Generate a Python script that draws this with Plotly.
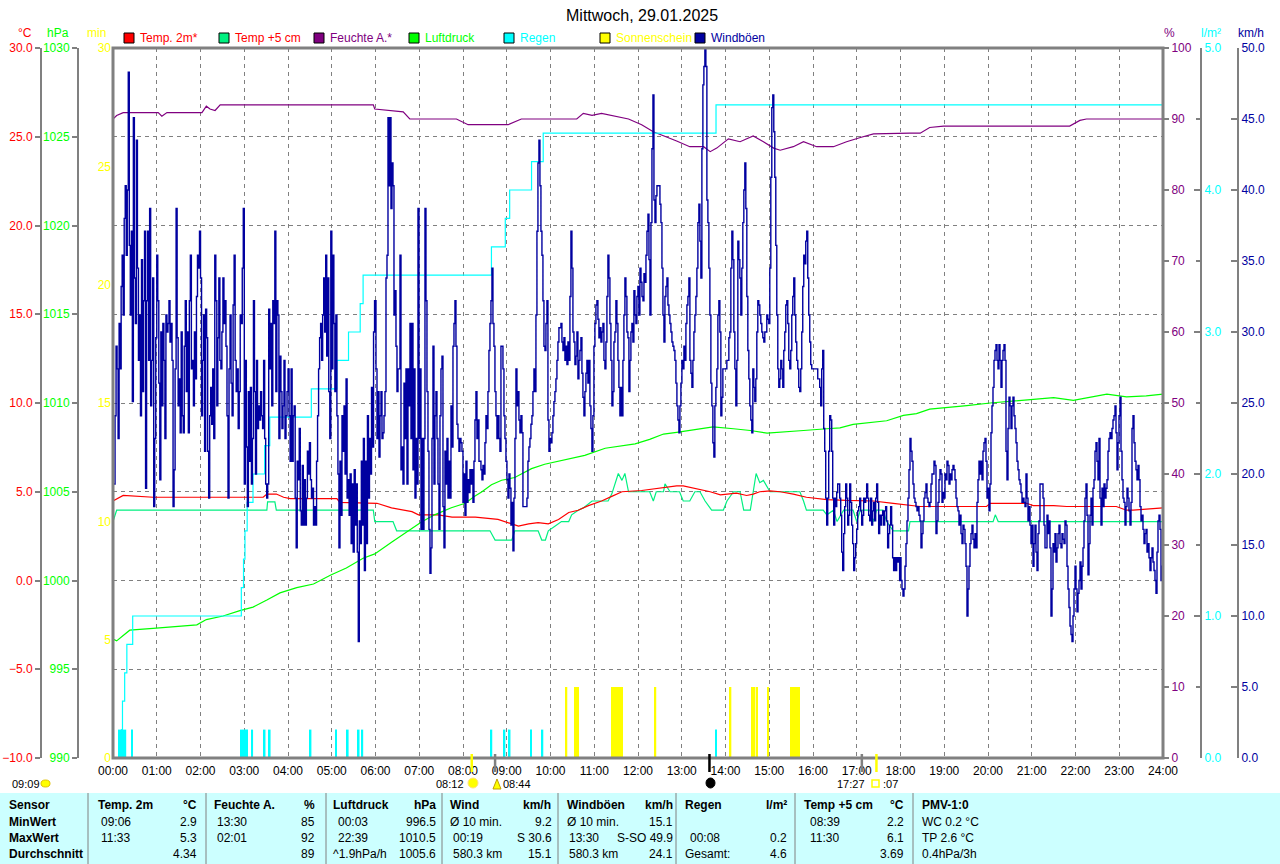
import numpy as np
import plotly.graph_objects as go

# ---------------- DATA (time in minutes since 00:00) ----------------
hour_ticks = list(range(0, 1441, 60))
hour_labels = ["%02d:00" % h for h in range(25)]

hum_t = [0, 5, 14, 62, 67, 74, 122, 128, 133, 140, 147, 357, 359, 398, 407, 471, 487, 542, 560, 636,
         645, 657, 670, 679, 707, 725, 741, 773, 791, 810, 819, 828, 844, 860, 878, 892, 906, 915, 933, 947,
         965, 988, 1006, 1025, 1043, 1093, 1107, 1120, 1139, 1312, 1326, 1335, 1440]
hum_v = [90.0, 90.5, 90.9, 90.9, 90.4, 90.9, 90.9, 91.8, 91.4, 91.2, 92.0, 92.0, 91.4, 91.0, 90.0, 90.0, 89.2, 89.2, 90.0, 90.0,
         90.8, 90.5, 90.8, 90.6, 90.0, 89.2, 88.2, 86.9, 86.1, 86.1, 85.4, 85.9, 87.2, 86.8, 87.6, 86.8, 85.9, 85.6, 86.1, 86.8,
         86.1, 86.1, 86.8, 87.4, 87.9, 88.0, 88.0, 88.8, 89.0, 89.0, 89.8, 90.0, 90.0]

t2_t = [0, 14, 55, 87, 206, 211, 224, 234, 243, 307, 311, 362, 382, 410, 419, 446, 465, 497, 528, 547,
        556, 570, 583, 597, 611, 625, 638, 652, 670, 684, 698, 725, 755, 773, 782, 800, 819, 833, 846, 855,
        869, 878, 887, 901, 915, 933, 951, 979, 1006, 1043, 1070, 1093, 1107, 1198, 1203, 1253, 1262, 1290, 1308, 1376,
        1390, 1399, 1422, 1440]
t2_v = [4.48, 4.79, 4.69, 4.69, 4.69, 4.87, 4.87, 4.69, 4.61, 4.61, 4.40, 4.35, 4.09, 3.88, 3.70, 3.70, 3.57, 3.57, 3.44, 3.19,
        3.06, 3.19, 3.26, 3.19, 3.44, 3.83, 3.96, 4.22, 4.48, 4.74, 5.00, 5.07, 5.23, 5.33, 5.33, 5.18, 5.00, 4.82, 4.87, 4.92,
        4.79, 4.87, 5.00, 5.05, 5.00, 4.87, 4.69, 4.56, 4.51, 4.48, 4.35, 4.22, 4.17, 4.17, 4.35, 4.35, 4.22, 4.22, 4.17, 4.17,
        3.96, 3.96, 4.04, 4.09]

t5_t = [0, 5, 211, 212, 222, 224, 357, 359, 384, 389, 517, 524, 547, 551, 583, 588, 593, 597, 606, 615,
        625, 629, 638, 645, 657, 679, 684, 693, 698, 702, 707, 736, 741, 745, 755, 757, 764, 777, 782, 791,
        798, 805, 812, 821, 837, 842, 851, 860, 865, 874, 878, 882, 887, 892, 901, 942, 947, 951, 974, 979,
        988, 993, 1002, 1015, 1020, 1025, 1038, 1043, 1047, 1056, 1061, 1070, 1091, 1093, 1207, 1210, 1214, 1440]
t5_v = [3.32, 3.96, 3.96, 4.43, 4.43, 3.96, 3.96, 3.32, 3.32, 2.80, 2.80, 2.28, 2.28, 2.80, 2.80, 2.28, 2.28, 2.80, 3.06, 3.32,
        3.32, 3.70, 3.96, 4.09, 4.48, 4.48, 4.87, 6.03, 5.64, 6.03, 5.00, 5.00, 4.48, 5.00, 5.00, 5.44, 5.00, 5.00, 4.48, 4.48,
        5.00, 5.00, 4.48, 3.96, 3.96, 4.48, 5.00, 5.00, 3.96, 3.96, 5.00, 6.03, 5.51, 5.64, 5.00, 5.00, 4.48, 3.96, 3.96, 3.70,
        3.96, 3.32, 3.96, 3.96, 3.32, 3.96, 3.96, 3.32, 3.96, 3.96, 3.32, 2.80, 2.80, 3.32, 3.32, 3.70, 3.32, 3.32]

p_t = [0, 5, 14, 23, 55, 87, 115, 128, 151, 174, 192, 211, 229, 252, 275, 298, 320, 343, 359, 382,
       405, 423, 441, 464, 483, 496, 506, 519, 533, 551, 560, 574, 592, 615, 634, 647, 675, 698, 716, 736,
       755, 773, 796, 823, 851, 874, 897, 919, 947, 979, 997, 1015, 1043, 1061, 1084, 1102, 1120, 1148, 1171, 1203,
       1230, 1262, 1290, 1317, 1344, 1363, 1390, 1417, 1440]
p_v = [996.7, 996.6, 996.9, 997.2, 997.3, 997.4, 997.5, 997.8, 998.0, 998.3, 998.5, 998.9, 999.3, 999.6, 999.8, 1000.3, 1000.7, 1001.25, 1001.5, 1002.15,
       1002.8, 1003.3, 1003.7, 1004.1, 1004.35, 1004.75, 1005.0, 1005.4, 1005.65, 1005.8, 1006.0, 1006.3, 1006.55, 1006.75, 1006.9, 1007.05, 1007.45, 1007.6, 1007.7, 1007.95,
       1008.25, 1008.35, 1008.5, 1008.65, 1008.55, 1008.45, 1008.3, 1008.35, 1008.45, 1008.55, 1008.6, 1008.8, 1008.9, 1009.0, 1009.3, 1009.4, 1009.65, 1009.75, 1009.85, 1010.0,
       1010.1, 1010.2, 1010.3, 1010.15, 1010.35, 1010.5, 1010.35, 1010.4, 1010.5]

rain_t = [0, 12, 13, 16, 19, 27, 176, 179, 181, 184, 192, 208, 215, 272, 307, 323, 339, 343, 519, 538, 544, 574, 590, 827, 1440]
rain_v = [0.0, 0.2, 0.4, 0.6, 0.8, 1.0, 1.2, 1.4, 1.6, 1.8, 2.0, 2.2, 2.4, 2.6, 2.8, 3.0, 3.2, 3.4, 3.6, 3.8, 4.0, 4.2, 4.4, 4.6, 4.6]

rain_bar_t = [9, 12, 14, 17, 26, 176, 179, 181, 184, 191, 208, 215, 271, 306, 322, 337, 342, 519, 537, 544, 573, 589, 827]
rain_bar_v = [0.2] * len(rain_bar_t)

sun_t = [622, 634, 636, 638, 685, 688, 690, 693, 695, 698, 744, 847, 876, 878, 880, 883, 898, 930, 932, 934, 937, 939, 941]
sun_v = [3.0] * len(sun_t)

# wind gusts (km/h), four blocks sampled at regular intervals: (start min, end min, values)
gust1 = [19.3, 24.1, 29.0, 27.4, 22.5, 30.6, 27.4, 33.2, 35.4, 31.2, 38.0, 40.3, 35.4, 40.0, 48.3, 36.1, 31.2, 37.1, 25.1, 45.1,
         33.8, 30.6, 43.5, 34.5, 28.0, 31.2, 24.1, 35.1, 25.8, 32.2, 37.1, 19.0, 32.2, 37.1, 28.0, 38.7, 24.8, 28.0, 33.8, 17.7,
         22.5, 29.6, 35.4, 32.2, 26.4, 19.6, 30.0, 24.8, 30.6, 28.0, 22.5, 31.2, 30.0, 30.6, 32.2, 29.3, 30.6, 28.0, 17.7, 20.3,
         27.4, 38.7, 29.6, 24.8, 26.7, 22.9, 30.0, 24.1, 22.9, 29.0, 32.2, 25.8, 30.0, 22.9, 32.2, 35.4, 27.4, 28.0, 24.8, 30.0,
         26.7, 32.5, 35.4, 34.5, 37.1, 33.8, 24.1, 28.0, 31.2, 21.6, 31.6, 29.6, 21.6, 18.3, 24.1, 26.1, 23.5, 27.4, 22.5, 35.4,
         32.2, 24.8, 29.6, 33.8, 28.0, 27.4, 30.0, 33.8, 30.6, 32.2, 29.0, 24.1, 18.3, 27.4, 31.2, 26.4, 24.1, 31.9, 35.4, 28.0,
         25.8, 27.4, 23.2, 25.8, 31.2, 30.6, 34.5, 38.7, 19.3, 28.0, 21.9, 17.7, 25.8, 20.9, 26.1, 19.3, 22.5, 32.2, 25.8, 20.0,
         28.0, 23.2, 24.8, 23.8, 25.8, 24.1, 23.2, 28.0, 22.5, 19.3, 18.3, 19.3, 31.6, 27.4, 30.6, 24.8, 32.2, 30.6, 37.1, 25.8,
         32.2, 31.2, 22.5, 28.3, 25.8, 23.2, 24.8, 28.0, 22.5, 24.1, 25.8, 27.4, 24.1, 20.9, 27.4, 20.9, 24.1, 24.8, 18.3, 14.8,
         20.9, 19.6, 23.2, 17.4, 16.4, 20.6, 16.4, 19.6, 16.4, 18.3, 21.6, 20.0, 22.2, 19.6, 18.3, 19.0, 16.4, 17.7, 16.4, 20.9,
         24.1, 27.4, 29.6, 30.6, 28.0, 31.2, 33.8, 30.0, 35.4, 28.3, 33.8, 25.8, 22.5, 37.1, 27.4, 35.4, 30.6, 25.8, 31.2, 24.1,
         20.0, 14.8, 20.9, 17.1, 24.1, 21.6, 24.8, 20.0, 26.7, 18.3, 19.6, 17.1, 20.0, 15.1, 19.3, 14.5, 20.3, 16.4, 19.3, 14.5,
         8.2, 16.7, 15.1, 20.9, 16.4, 22.5, 13.2, 20.9, 15.1, 24.1, 18.3, 22.5, 20.0, 26.1, 21.9, 30.0, 32.2, 24.8, 27.4, 23.8,
         26.4, 24.8]
gust2 = [32.2, 27.4, 22.5, 25.8, 21.2, 24.1, 25.8, 22.5, 22.9, 24.1, 25.8, 33.8, 35.4, 45.1, 40.3, 45.1, 38.7, 41.9, 40.3, 31.2,
         32.9, 29.0, 25.8, 27.4, 27.4, 35.4, 20.3, 21.9, 19.3, 26.4, 22.5, 27.4, 19.3, 27.4, 24.8, 30.6, 22.5, 30.6, 20.3, 27.4,
         18.3, 22.5, 19.3, 38.7, 22.5, 27.4, 16.1, 22.5, 16.1, 22.5, 38.7, 32.2, 25.8, 21.6, 16.1, 13.0, 14.8, 22.5, 29.0, 19.3,
         24.1, 25.8, 22.5, 19.3, 16.1, 24.1, 27.4, 28.3, 17.7, 14.8, 21.6, 19.3, 22.5, 18.3, 20.9, 18.3, 24.8, 21.9, 29.0, 30.6,
         32.2, 29.0, 23.5, 22.5, 21.6, 22.5, 22.2, 21.6, 18.0, 20.0, 17.1, 20.9, 18.0, 19.6, 18.7, 20.3, 19.3, 20.3, 18.0, 20.9,
         23.8, 25.8, 22.5, 23.8, 20.9, 20.9, 20.3, 19.6, 20.6, 20.0, 22.2, 24.1, 23.2, 25.8, 28.7, 30.6, 32.2, 34.5, 30.6, 29.0,
         25.8, 24.1, 22.5, 24.1, 22.5, 21.6, 29.0, 29.0, 27.4, 24.1, 22.5, 20.9, 19.6, 18.3, 20.0, 19.0, 16.4, 18.0, 14.6, 18.3,
         22.5, 27.4, 24.8, 25.8, 23.8, 22.9, 24.1, 22.9, 17.7, 17.7, 17.7, 17.7, 18.3, 20.9, 21.9, 22.5, 23.5, 24.1, 25.8, 27.4,
         25.8, 31.2, 37.1, 41.9, 43.5, 40.3, 37.1, 35.4, 32.2, 29.0, 28.7, 30.6, 32.2, 23.8, 21.6, 22.5, 22.2, 22.9, 24.1, 25.1,
         25.8, 26.7, 28.0, 29.3, 30.3, 30.3, 30.6, 29.3, 28.7, 29.6, 28.0, 29.0, 27.7, 29.3, 28.0, 32.5, 37.1, 34.5, 30.0, 29.3,
         27.7, 28.3, 30.0, 26.7, 28.0, 28.7, 29.6, 27.1, 25.4, 24.1, 25.8, 27.1, 28.0, 26.4, 28.0, 24.8, 23.2, 21.6, 24.1, 29.0,
         30.6, 31.9, 32.2, 30.9, 29.6, 30.3, 29.3, 30.0, 30.6, 28.0, 27.4, 29.3, 32.5, 35.4, 33.8, 30.6, 28.0, 24.8, 25.8, 29.3,
         30.0, 32.2, 30.6, 28.0, 26.1, 24.1, 26.1, 24.1, 28.0, 31.2, 33.8, 32.5, 30.0, 29.6, 25.8, 28.0, 30.0, 30.6, 29.3, 32.9,
         31.2, 30.6, 32.5, 33.2, 31.2, 33.8, 35.1, 33.8, 32.5, 32.9]
gust3 = [34.5, 33.5, 32.5, 32.2, 34.1, 33.5, 35.4, 37.1, 38.3, 35.1, 31.2, 37.7, 42.9, 46.7, 39.3, 37.7, 39.6, 40.3, 40.3, 40.3,
         39.0, 37.7, 34.5, 31.2, 29.3, 32.5, 33.2, 33.8, 31.9, 31.2, 30.6, 30.0, 29.3, 29.0, 28.7, 28.0, 26.4, 24.8, 23.8, 22.9,
         24.8, 26.4, 28.0, 27.4, 29.0, 28.0, 30.6, 31.9, 32.5, 33.8, 28.0, 27.1, 26.1, 28.0, 30.0, 31.2, 32.5, 34.5, 37.7, 39.0,
         36.4, 33.8, 42.9, 47.4, 48.7, 49.9, 48.7, 39.3, 37.7, 34.5, 31.2, 26.4, 24.8, 22.2, 21.2, 24.8, 26.1, 27.4, 31.2, 32.2,
         30.0, 24.1, 25.4, 27.4, 27.4, 27.4, 27.4, 28.0, 28.0, 29.6, 30.0, 34.5, 37.1, 35.1, 30.0, 27.4, 24.8, 28.0, 36.4, 35.1,
         33.8, 31.2, 34.5, 37.7, 40.0, 41.9, 38.7, 32.5, 28.7, 26.7, 24.8, 23.8, 22.9, 27.4, 26.1, 25.1, 26.7, 30.0, 32.2, 31.9,
         31.2, 30.6, 30.0, 29.6, 29.3, 30.0, 30.0, 31.2, 30.9, 30.6, 34.5, 40.9, 45.8, 46.7, 44.1, 40.9, 36.1, 31.2, 27.4, 26.1,
         26.7, 28.0, 27.4, 26.1, 28.7, 30.0, 31.9, 32.2, 30.6, 28.0, 27.4, 28.7, 31.2, 32.5, 33.8, 31.2, 29.3, 28.0, 27.4, 26.1,
         25.8, 27.4, 30.0, 33.2, 35.4, 34.8, 36.4, 37.1, 33.8, 31.2, 29.3, 27.7, 27.4, 27.4, 27.4, 27.4, 27.4, 27.4, 26.7, 26.7,
         26.1, 24.8, 27.4, 28.7, 23.2, 21.6, 18.3, 16.4, 18.3, 21.6, 24.1, 23.8, 21.6, 18.3, 16.4, 18.3, 17.7, 18.7, 19.3, 19.3,
         18.3, 17.1, 14.5, 13.2, 15.8, 17.7, 19.3, 18.3, 16.4, 17.1, 19.3, 18.0, 16.4, 15.1, 13.2, 14.1, 15.1, 16.1, 17.4, 17.7,
         18.3, 17.4, 16.4, 17.1, 18.3, 18.0, 18.3, 19.3, 18.3, 17.1, 16.7, 18.3, 16.4, 17.4, 18.0, 16.7, 18.3, 19.3, 18.0, 15.8,
         17.1, 16.4, 17.1, 17.4, 16.4, 17.4, 17.7, 16.7, 14.8, 15.8, 16.4, 17.7, 16.4, 14.1, 13.2, 14.1, 13.2, 14.1, 13.8, 14.1,
         12.5, 11.9, 11.6, 12.5, 11.9, 13.2, 13.8, 15.8, 16.4, 18.3, 20.9]
gust4 = [14.1, 12.5, 11.9, 11.4, 11.9, 13.5, 15.1, 16.7, 18.3, 20.3, 22.5, 21.6, 20.9, 19.3, 18.3, 18.0, 17.7, 17.4, 17.7, 17.1,
         16.7, 14.8, 15.8, 16.7, 18.3, 18.7, 19.3, 18.3, 18.0, 17.7, 18.0, 19.3, 20.0, 20.0, 20.9, 20.6, 15.8, 16.7, 18.0, 19.6,
         20.3, 20.0, 18.0, 18.7, 18.3, 20.0, 19.6, 20.9, 20.6, 19.3, 20.0, 19.6, 20.3, 20.6, 20.3, 19.6, 18.3, 17.7, 17.4, 16.4,
         17.1, 15.8, 15.1, 16.4, 16.1, 15.1, 13.5, 10.0, 11.9, 13.5, 15.1, 15.8, 16.4, 15.4, 14.8, 15.8, 14.8, 18.0, 19.6, 20.9,
         20.0, 20.9, 19.6, 21.6, 22.2, 22.5, 20.9, 18.3, 19.0, 17.4, 19.3, 22.9, 24.8, 26.1, 28.0, 28.7, 29.1, 28.0, 27.4, 29.1,
         28.0, 26.1, 28.0, 28.7, 29.1, 28.0, 21.6, 19.6, 23.2, 25.4, 24.8, 23.2, 24.8, 25.4, 24.1, 23.2, 22.2, 20.9, 20.3, 19.6,
         19.3, 18.7, 18.0, 18.3, 18.0, 17.7, 20.0, 18.3, 16.7, 17.7, 16.4, 15.1, 16.4, 13.5, 15.1, 16.4, 14.5, 13.2, 15.8, 16.7,
         19.3, 19.3, 19.3, 18.3, 16.4, 14.8, 14.8, 17.1, 15.8, 16.7, 14.8, 10.0, 11.9, 15.1, 14.5, 15.8, 13.8, 14.8, 15.8, 16.4,
         15.1, 14.8, 15.8, 15.4, 15.1, 16.7, 16.4, 13.5, 11.9, 10.6, 9.3, 8.7, 8.2, 10.0, 11.9, 13.5, 11.9, 10.3, 11.6, 12.5,
         13.8, 11.9, 13.5, 14.8, 16.7, 18.3, 19.3, 17.1, 12.9, 15.1, 17.1, 18.3, 16.4, 19.0, 19.6, 21.6, 22.2, 20.9, 19.6, 22.5,
         18.3, 16.4, 19.0, 17.7, 19.3, 18.3, 19.0, 19.6, 21.6, 22.5, 22.9, 22.5, 23.2, 23.8, 24.1, 24.8, 22.9, 20.3, 22.2, 24.1,
         25.4, 21.6, 19.6, 18.3, 18.0, 16.4, 17.7, 19.0, 18.3, 17.4, 16.4, 18.0, 23.2, 24.1, 22.2, 20.9, 20.3, 19.6, 20.6, 19.6,
         17.7, 16.7, 17.1, 16.1, 15.1, 15.8, 16.1, 14.5, 15.1, 14.1, 13.2, 14.1, 14.8, 13.8, 13.2, 12.5, 11.6, 14.5, 16.7, 17.1,
         16.1, 12.5, 13.5, 12.2]
gust_blocks = [(1.4, 365.7, gust1), (359.3, 728.1, gust2), (722.7, 1092.5, gust3), (1079.3, 1440.0, gust4)]

# sun / moon events on the time axis
event_t = [492, 524, 818, 1027, 1047]
event_c = ["#FFFF00", "#808080", "#000000", "#808080", "#FFFF00"]

# summary table
tbl_header = ["Sensor", "Temp. 2m", "°C", "Feuchte A.", "%", "Luftdruck", "hPa", "Wind", "km/h", "Windböen", "km/h",
              "Regen", "l/m²", "Temp +5 cm", "°C", "PMV-1:0"]
tbl_min = ["MinWert", "09:06", "2.9", "13:30", "85", "00:03", "996.5", "Ø 10 min.", "9.2", "Ø 10 min.", "15.1",
           "", "", "08:39", "2.2", "WC 0.2 °C"]
tbl_max = ["MaxWert", "11:33", "5.3", "02:01", "92", "22:39", "1010.5", "00:19", "S 30.6", "13:30", "S-SO 49.9",
           "00:08", "0.2", "11:30", "6.1", "TP 2.6 °C"]
tbl_avg = ["Durchschnitt", "", "4.34", "", "89", "^1.9hPa/h", "1005.6", "580.3 km", "15.1", "580.3 km", "24.1",
           "Gesamt:", "4.6", "", "3.69", "0.4hPa/3h"]

# ---------------- LAYOUT helpers ----------------
W, H = 1280, 864
X0, X1, YT, YB = 113, 1163, 48, 758
def px(x):
    return x / W
def py(y):
    return 1 - y / H

GRAY = "#808080"
RED, SPRING, PURPLE, GREEN, CYAN, YELLOW, NAVY = "#FF0000", "#00F080", "#800080", "#00FF00", "#00FFFF", "#FFFF00", "#0000A0"
FONT = "Liberation Sans, Arial, sans-serif"
NARROW = "Liberation Sans Narrow, Arial Narrow, Liberation Sans, sans-serif"

fig = go.Figure()
fig.add_trace(go.Bar(x=sun_t, y=sun_v, yaxis="y3", width=2.0, marker=dict(color=YELLOW, line=dict(width=0)), name="Sonnenschein"))
fig.add_trace(go.Bar(x=rain_bar_t, y=rain_bar_v, yaxis="y5", width=2.2, marker=dict(color=CYAN, line=dict(width=0)), name="Regen"))
fig.add_trace(go.Scatter(x=rain_t, y=rain_v, yaxis="y5", mode="lines", line=dict(color=CYAN, width=1.2, shape="hv"), name="Regen sum"))
fig.add_trace(go.Scatter(x=p_t, y=p_v, yaxis="y2", mode="lines", line=dict(color=GREEN, width=1.2), name="Luftdruck"))
fig.add_trace(go.Scatter(x=t5_t, y=t5_v, yaxis="y", mode="lines", line=dict(color=SPRING, width=1.2), name="Temp +5 cm"))
fig.add_trace(go.Scatter(x=t2_t, y=t2_v, yaxis="y", mode="lines", line=dict(color=RED, width=1.2), name="Temp. 2m"))
fig.add_trace(go.Scatter(x=hum_t, y=hum_v, yaxis="y4", mode="lines", line=dict(color=PURPLE, width=1.2), name="Feuchte"))

gx, gy = [], []
for i, (a, b, vals) in enumerate(gust_blocks):
    ts = np.linspace(a, b, len(vals))
    nxt = gust_blocks[i + 1][0] if i + 1 < len(gust_blocks) else 1e9
    for t, v in zip(ts, vals):
        if t < nxt:
            gx.append(float(t))
            gy.append(v)
fig.add_trace(go.Scatter(x=gx, y=gy, yaxis="y6", mode="lines", line=dict(color=NAVY, width=1.4, shape="hv"), name="Windböen"))

ydom = [py(YB), py(YT)]
common = dict(domain=ydom, zeroline=False, automargin=False, fixedrange=True, tickfont=dict(family=FONT, size=12))
fig.update_layout(
    width=W, height=H, autosize=False, margin=dict(l=0, r=0, t=0, b=0),
    paper_bgcolor="white", plot_bgcolor="white", showlegend=False, barmode="overlay",
    font=dict(family=FONT, size=12, color="black"),
    xaxis=dict(domain=[px(X0), px(X1)], range=[0, 1440], tickmode="array", tickvals=hour_ticks, ticktext=hour_labels,
               showgrid=True, gridcolor=GRAY, griddash="4px,4px", gridwidth=1, zeroline=False, showline=False,
               ticks="", ticklabelstandoff=4, tickfont=dict(family=FONT, size=12, color="black"),
               automargin=False, fixedrange=True),
    yaxis=dict(**common, range=[-10, 30], tickmode="array", tickvals=[-10, -5, 0, 5, 10, 15, 20, 25, 30], tickformat=".1f",
               anchor="free", position=px(41), side="left", showline=True, linecolor=GRAY, linewidth=2,
               ticks="outside", ticklen=5, tickcolor=GRAY, tickwidth=1.5, color=RED,
               showgrid=True, gridcolor=GRAY, griddash="4px,4px", gridwidth=1),
    yaxis2=dict(**common, range=[990, 1030], tickmode="array", tickvals=[990, 995, 1000, 1005, 1010, 1015, 1020, 1025, 1030],
                overlaying="y", anchor="free", position=px(78), side="left", showline=True, linecolor=GRAY, linewidth=2,
                ticks="outside", ticklen=5, tickcolor=GRAY, tickwidth=1.5, color=GREEN, showgrid=False),
    yaxis3=dict(**common, range=[0, 30], tickmode="array", tickvals=[0, 5, 10, 15, 20, 25, 30],
                overlaying="y", anchor="x", side="left", showline=False, ticks="", color=YELLOW, showgrid=False,
                ticklabelstandoff=1),
    yaxis4=dict(**common, range=[0, 100], tickmode="array", tickvals=list(range(0, 101, 10)),
                overlaying="y", anchor="x", side="right", showline=False, ticks="outside", ticklen=5, tickcolor=GRAY,
                tickwidth=1.5, color=PURPLE, showgrid=False),
    yaxis5=dict(**common, range=[0, 5], tickmode="array", tickvals=[0, 1, 2, 3, 4, 5], tickformat=".1f",
                overlaying="y", anchor="free", position=px(1201), side="right", showline=True, linecolor=GRAY, linewidth=2,
                ticks="inside", ticklen=6, tickcolor=GRAY, tickwidth=1.5, color=CYAN, showgrid=False,
                minor=dict(tickmode="array", tickvals=[0.5, 1.5, 2.5, 3.5, 4.5], ticks="inside", ticklen=4, tickcolor=GRAY)),
    yaxis6=dict(**common, range=[0, 50], tickmode="array", tickvals=list(range(0, 51, 5)), tickformat=".1f",
                overlaying="y", anchor="free", position=px(1238), side="right", showline=True, linecolor=GRAY, linewidth=2,
                ticks="inside", ticklen=6, tickcolor=GRAY, tickwidth=1.5, color=NAVY, showgrid=False),
)

shapes = []
ann = []
# plot frame
shapes.append(dict(type="rect", xref="paper", yref="paper", x0=px(X0), x1=px(X1), y0=py(YB), y1=py(YT),
                   line=dict(color=GRAY, width=3), fillcolor="rgba(0,0,0,0)", layer="above"))
# title
ann.append(dict(text="Mittwoch, 29.01.2025", x=px(642), y=py(15), xref="paper", yref="paper", showarrow=False,
                font=dict(family=FONT, size=16, color="black"), xanchor="center", yanchor="middle"))
# axis unit labels
for txt, x, c in [("°C", 25, RED), ("hPa", 58, GREEN), ("min", 96, YELLOW), ("%", 1169, PURPLE),
                  ("l/m²", 1211, CYAN), ("km/h", 1251, NAVY)]:
    ann.append(dict(text=txt, x=px(x), y=py(33), xref="paper", yref="paper", showarrow=False,
                    font=dict(family=FONT, size=12, color=c), xanchor="center", yanchor="middle"))
# legend
legend_items = [("Temp. 2m*", RED, RED, 124), ("Temp +5 cm", SPRING, RED, 219), ("Feuchte A.*", PURPLE, PURPLE, 314),
                ("Luftdruck", GREEN, GREEN, 409), ("Regen", CYAN, CYAN, 504), ("Sonnenschein", YELLOW, YELLOW, 600),
                ("Windböen", NAVY, NAVY, 695)]
for txt, sq, tc, x in legend_items:
    shapes.append(dict(type="rect", xref="paper", yref="paper", x0=px(x), x1=px(x + 10), y0=py(43), y1=py(33),
                       fillcolor=sq, line=dict(color="black", width=1)))
    ann.append(dict(text=txt, x=px(x + 14), y=py(38), xref="paper", yref="paper", showarrow=False,
                    font=dict(family=FONT, size=12, color=tc), xanchor="left", yanchor="middle"))
# sun / moon event markers
for t, c in zip(event_t, event_c):
    shapes.append(dict(type="line", xref="x", yref="paper", x0=t, x1=t, y0=py(772), y1=py(754),
                       line=dict(color=c, width=2.5)))
# small texts under the axis
for txt, x, anc in [("09:09", 10, "left"), ("08:12", 466, "right"), ("08:44", 501, "left"),
                    ("17:27", 867, "right"), (":07", 881, "left")]:
    ann.append(dict(text=txt, x=px(x), y=py(784), xref="paper", yref="paper", showarrow=False,
                    font=dict(family=FONT, size=11, color="black"), xanchor=anc, yanchor="middle"))
shapes.append(dict(type="circle", xref="paper", yref="paper", x0=px(41), x1=px(50), y0=py(787), y1=py(780),
                   fillcolor=YELLOW, line=dict(color="#E0C000", width=1)))
shapes.append(dict(type="circle", xref="paper", yref="paper", x0=px(468), x1=px(478), y0=py(788), y1=py(778),
                   fillcolor=YELLOW, line=dict(color="#FFE080", width=1)))
shapes.append(dict(type="path", xref="paper", yref="paper",
                   path="M %f %f L %f %f L %f %f Z" % (px(493), py(789), px(497), py(779), px(501), py(789)),
                   fillcolor=YELLOW, line=dict(color="#C0A000", width=1)))
shapes.append(dict(type="circle", xref="paper", yref="paper", x0=px(706), x1=px(715), y0=py(788), y1=py(778),
                   fillcolor="black", line=dict(color="black", width=1)))
shapes.append(dict(type="rect", xref="paper", yref="paper", x0=px(872), x1=px(879), y0=py(787), y1=py(780),
                   fillcolor="white", line=dict(color=YELLOW, width=1.5)))

# table
shapes.append(dict(type="rect", xref="paper", yref="paper", x0=0, x1=1, y0=0, y1=py(793),
                   fillcolor="#CCFFFF", line=dict(width=0), layer="below"))
for x in [88, 206, 326, 442, 558, 676, 795, 913]:
    shapes.append(dict(type="line", xref="paper", yref="paper", x0=px(x), x1=px(x), y0=0, y1=py(793),
                       line=dict(color=GRAY, width=1)))
row_y = [805, 822, 838, 854]
hdr_x = [7, 96, 199, 212, 317, 331, 438, 448, 553, 565, 675, 683, 789, 802, 906, 920]
body_x = [7, 99, 199, 215, 317, 336, 438, 451, 554, 567, 675, 688, 789, 808, 906, 920]
anchors = ["left", "left", "right", "left", "right", "left", "right", "left", "right", "left", "right",
           "left", "right", "left", "right", "left"]
for r, row in enumerate([tbl_header, tbl_min, tbl_max, tbl_avg]):
    for c, txt in enumerate(row):
        if not txt:
            continue
        bold = (r == 0 or c == 0)
        xs = hdr_x if (r == 0 or c in (0, 15) or txt in ("Ø 10 min.", "Gesamt:", "^1.9hPa/h")) else body_x
        ann.append(dict(text=("<b>%s</b>" % txt) if bold else txt, x=px(xs[c]), y=py(row_y[r]), xref="paper",
                        yref="paper", showarrow=False, xanchor=anchors[c], yanchor="middle",
                        font=dict(family=NARROW, size=12, color="black")))

fig.update_layout(shapes=shapes, annotations=ann)
fig.write_html("out.html", config={"displayModeBar": False},
               post_script="document.body.style.margin='0px';document.body.style.padding='0px';")
